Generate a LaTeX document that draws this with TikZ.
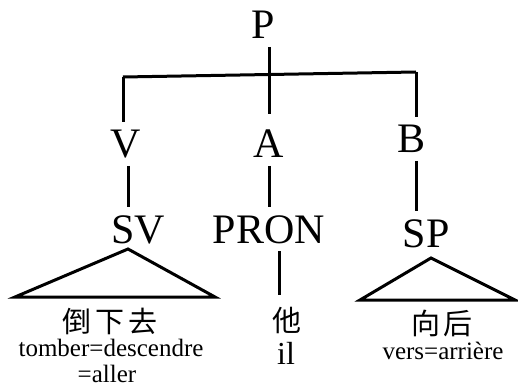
\documentclass[tikz,border=0pt]{standalone}
\usepackage{fontspec}
\setmainfont{Liberation Serif}
\newfontfamily\cjk{Noto Sans CJK SC}
\usetikzlibrary{calc}

\tikzset{
  cat/.style={inner sep=0pt, outer sep=8pt, anchor=base, text height=28pt, text depth=0pt,
    font=\fontsize{42}{42}\selectfont},
  gloss/.style={inner sep=0pt, anchor=base, font=\fontsize{25}{25}\selectfont},
  hanzi/.style={inner sep=0pt, outer sep=12pt, anchor=base, font=\cjk\fontsize{29}{29}\selectfont},
  branch/.style={line width=3pt},
}

\begin{document}
\begin{tikzpicture}[x=1pt, y=-1pt]
  \useasboundingbox (0,0) rectangle (518,387);

  % categories
  \node[cat] (P) at (263,39) {P};
  \node[cat] (V) at (126,158) {V};
  \node[cat] (A) at (269,158) {A};
  \node[cat] (B) at (411,153) {B};
  \node[cat] (SV) at (138,243) {SV};
  \node[cat] (PRON) at (269,243) {PRON};
  \node[cat] (SP) at (426,247) {SP};

  % words
  \node[hanzi] (dao) at (110,332) {倒\hspace{4pt}下\hspace{4pt}去};
  \node[gloss] (tomber) at (111,356) {tomber=descendre};
  \node[gloss] (aller) at (107,382) {=aller};
  \node[hanzi] (ta) at (287,331) {他};
  \node[gloss, font=\fontsize{32}{32}\selectfont] (il) at (286,364) {il};
  \node[hanzi] (xiang) at (442,334) {向\hspace{4pt}后};
  \node[gloss] (vers) at (443,359) {vers=arrière};

  \coordinate (barV) at (123,77);
  \coordinate (barB) at (416,72);
  \coordinate (svtop) at (128,249);
  \coordinate (svl) at (15,297);
  \coordinate (svr) at (215,297);
  \coordinate (sptop) at (431,258);
  \coordinate (spl) at (360,300);
  \coordinate (spr) at (515,300);
  \coordinate (pronfoot) at (279,297);

  \draw[branch] (P.south -| A) -- ([yshift=8pt]A.north);
  \draw[branch] (barV) -- (barB);
  \draw[branch] (barV) -- (barV |- V.north);
  \draw[branch] (barB) -- (barB |- B.north);

  \draw[branch] (svtop |- V.south) -- (svtop |- SV.north);
  \draw[branch] (A.south) -- (A.south |- PRON.north);
  \draw[branch] (barB |- B.south) -- (barB |- SP.north);
  \draw[branch] (pronfoot |- PRON.south) -- (pronfoot |- ta.north);

  \draw[branch] (svtop) -- (svl) -- (svr) -- cycle;
  \draw[branch] (sptop) -- (spl) -- (spr) -- cycle;

\end{tikzpicture}
\end{document}
